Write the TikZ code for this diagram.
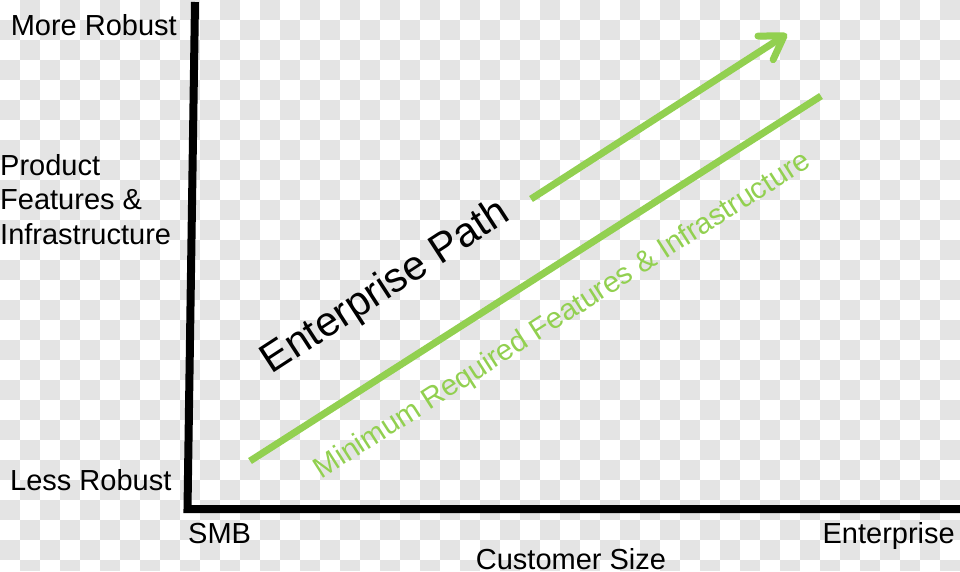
\documentclass[tikz,border=0pt]{standalone}
\usepackage{fontspec}
\setmainfont{Liberation Sans}
\usetikzlibrary{arrows.meta}
\definecolor{bgsq}{RGB}{228,228,228}
\definecolor{pgreen}{RGB}{146,208,80}
\begin{document}
\begin{tikzpicture}[x=1pt,y=-1pt,
  axisline/.style={line width=8pt,black,line join=miter,line cap=butt},
  greenline/.style={line width=7pt,pgreen,line cap=butt},
  lbl/.style={inner sep=0pt,font=\fontsize{29}{34}\selectfont,text=black},
  bigl/.style={inner sep=0pt,font=\fontsize{41.5}{48}\selectfont,text=black},
  greenl/.style={inner sep=0pt,font=\fontsize{29.5}{34}\selectfont,text=pgreen}]
\useasboundingbox (0,0) rectangle (960,571);
% checkerboard background
\fill[white] (0,0) rectangle (960,571);
\foreach \ci in {0,40,...,920}{
  \foreach \cj in {20,60,...,540}{
    \fill[bgsq] (\ci,\cj) rectangle ++(20,20);
  }
}
\foreach \ci in {20,60,...,940}{
  \foreach \cj in {0,40,...,520}{
    \fill[bgsq] (\ci,\cj) rectangle ++(20,20);
  }
  \fill[bgsq] (\ci,560) rectangle ++(20,11);
}
% axes
\coordinate (ytop) at (195,2);
\coordinate (orig) at (187.5,509);
\coordinate (xend) at (960,509);
\draw[axisline] (ytop) -- (orig) -- (xend);
% green lines
\coordinate (m1) at (250,461);
\coordinate (m2) at (821,96);
\draw[greenline] (m1) -- (m2);
\coordinate (e1) at (531,199);
\coordinate (e2) at (787,34);
\draw[greenline,-{Straight Barb[length=22pt,width=28pt,round]}] (e1) -- (e2);
% labels
\node[lbl,anchor=base east] (more) at (177,35) {More Robust};
\node[lbl,anchor=base west] (prod1) at (0,175) {Product};
\node[lbl,anchor=base west] (prod2) at (0,209.5) {Features \&};
\node[lbl,anchor=base west] (prod3) at (0,244) {Infrastructure};
\node[lbl,anchor=base west] (less) at (10,490) {Less Robust};
\node[lbl,anchor=base west] (smb) at (188,543) {SMB};
\node[lbl,anchor=base east] (ent) at (955,543) {Enterprise};
\node[lbl,anchor=base] (cust) at (571,569) {Customer Size};
\node[bigl,rotate=33] (path) at (386,288) {Enterprise Path};
\node[greenl,rotate=32.6] (minreq) at (563,316) {Minimum Required Features \& Infrastructure};
\end{tikzpicture}
\end{document}
